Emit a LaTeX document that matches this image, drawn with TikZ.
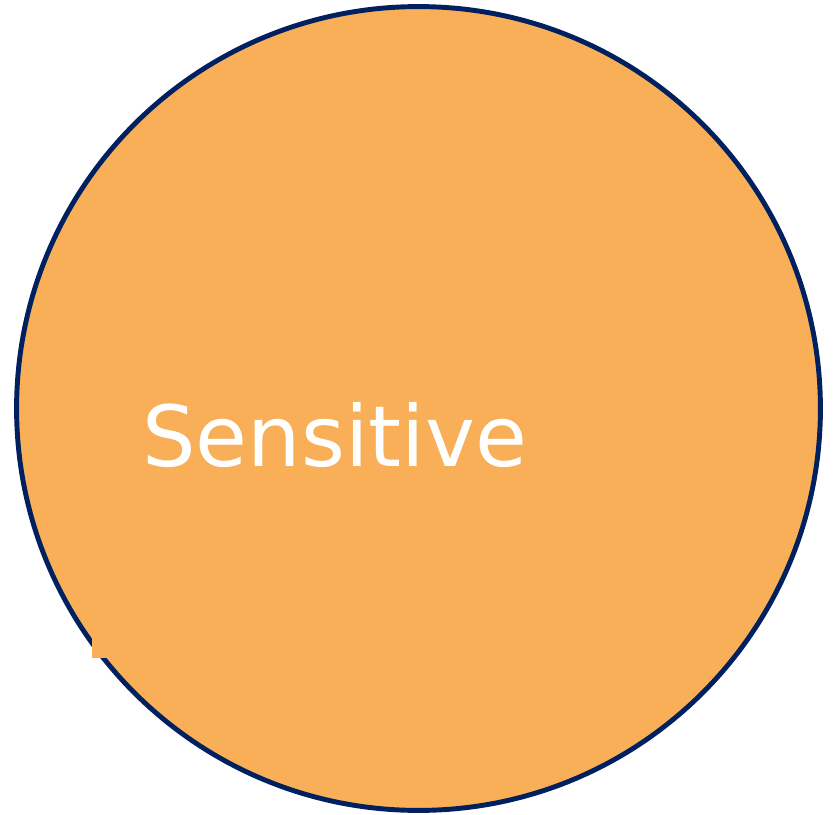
\documentclass[tikz,border=0pt]{standalone}
\usepackage{fontspec}
\setmainfont{DejaVu Sans}
\usepackage{xcolor}
\definecolor{discfill}{HTML}{F8AF58}
\definecolor{discline}{HTML}{002060}
\begin{document}
\begin{tikzpicture}[x=0.02cm,y=-0.02cm,
   disc/.style={circle,draw=discline,fill=discfill,line width=2.8pt,minimum size=16.08cm,inner sep=0pt},
   lbl/.style={text=white,font=\fontsize{48}{56}\selectfont,inner sep=0pt}]
  \useasboundingbox (0,0) rectangle (834,814);
  % the circle
  \node[disc] (sens) at (418.5,408.5) {};
  % small patch on the rim
  \node[fill=discfill,inner sep=0pt,minimum width=0.4cm,minimum height=0.4cm,anchor=north west] (patch) at (92,638) {};
  % label
  \node[lbl,anchor=base west] (word) at (142,466) {Sensitive};
\end{tikzpicture}
\end{document}
